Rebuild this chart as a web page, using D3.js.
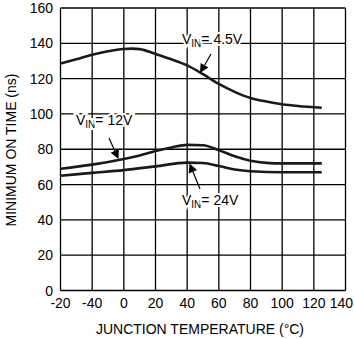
<!DOCTYPE html>
<html><head><meta charset="utf-8">
<script src="https://cdn.jsdelivr.net/npm/d3@7"></script>
<style>body{margin:0;background:#fff}svg{display:block}text{font-family:"Liberation Sans",Arial,sans-serif;fill:#000}</style>
</head><body>
<script>
const xTicks = [-40,-20,0,20,40,60,80,100,120,140];
const xTickLabels = ["-20","-40","0","20","40","60","80","100","120","140"];
const yTicks = [0,20,40,60,80,100,120,140,160];
const temps45 = [-40,-30,-20,-10,0,5,10,20,30,40,50,60,70,80,90,100,110,125];
const vin45   = [128.5,131,133.5,135.5,136.8,137,136.7,134,131,127.5,122.5,117,112.5,109,107,105.5,104.5,103.5];
const temps12 = [-40,-20,0,10,20,30,40,50,60,70,80,90,100,125];
const vin12   = [69,71.3,74.5,76.5,79,81,82.5,82.3,79.5,76,73.5,72.3,72,72];
const temps24 = [-40,-20,0,20,40,50,60,70,80,100,125];
const vin24   = [65,66.6,68.2,70.3,72.4,72.2,70.5,68.5,67.5,67,67];

const W=354,H=339;
const svg=d3.select("body").append("svg").attr("width",W).attr("height",H);
const x=d3.scaleLinear().domain([-40,140]).range([60.5,345.5]);
const y=d3.scaleLinear().domain([0,160]).range([290.5,8]);

// grid
const g=svg.append("g");
g.selectAll(".vx").data(xTicks).join("line")
 .attr("x1",d=>x(d)).attr("x2",d=>x(d)).attr("y1",y(0)).attr("y2",y(160))
 .attr("stroke","#000").attr("stroke-width",1.3);
g.selectAll(".hy").data(yTicks).join("line")
 .attr("y1",d=>y(d)).attr("y2",d=>y(d)).attr("x1",x(-40)).attr("x2",x(140))
 .attr("stroke","#000").attr("stroke-width",1.3);

// tick labels
const nX=xTicks.length;
svg.selectAll(".xl").data(xTicks).join("text")
 .attr("x",(d,i)=>i===nX-1?353:x(d)).attr("y",307.5)
 .attr("text-anchor",(d,i)=>i===nX-1?"end":"middle").attr("font-size",14)
 .text((d,i)=>xTickLabels[i]);
svg.selectAll(".yl").data(yTicks).join("text")
 .attr("x",53).attr("y",d=>y(d)+5).attr("text-anchor","end").attr("font-size",14)
 .text(d=>d);

// titles
svg.append("text").attr("x",200).attr("y",334).attr("text-anchor","middle").attr("font-size",14)
 .text("JUNCTION TEMPERATURE (°C)");
svg.append("text").attr("transform","translate(16,150) rotate(-90)").attr("text-anchor","middle").attr("font-size",14)
 .text("MINIMUM ON TIME (ns)");

// curves
const line=d3.line().x(d=>x(d[0])).y(d=>y(d[1])).curve(d3.curveMonotoneX);
[[temps45,vin45],[temps12,vin12],[temps24,vin24]].forEach(([t,v])=>{
  svg.append("path").datum(t.map((d,i)=>[d,v[i]])).attr("d",line)
   .attr("fill","none").attr("stroke","#1a1a1a").attr("stroke-width",2.6);
});

// annotations
function label(tx,ty,val){
  const t=svg.append("text").attr("x",tx).attr("y",ty).attr("font-size",14)
   .attr("stroke","#fff").attr("stroke-width",4).attr("paint-order","stroke");
  t.append("tspan").text("V");
  t.append("tspan").attr("font-size",10).attr("dy",3).text("IN");
  t.append("tspan").attr("dy",-3).text("= "+val);
}
label(182,44,"4.5V");
label(76,125,"12V");
label(182,205,"24V");

function arrow(x1,y1,x2,y2){
  const dx=x2-x1,dy=y2-y1,L=Math.hypot(dx,dy),ux=dx/L,uy=dy/L;
  const hl=9,hw=4.5;
  const bx=x2-ux*hl,by=y2-uy*hl;
  svg.append("line").attr("x1",x1).attr("y1",y1).attr("x2",bx).attr("y2",by)
   .attr("stroke","#000").attr("stroke-width",1.2);
  svg.append("path").attr("d",`M${x2},${y2}L${bx-uy*hw},${by+ux*hw}L${bx+uy*hw},${by-ux*hw}Z`).attr("fill","#000");
}
arrow(211,54,200,73);
arrow(109,138,118.5,159);
arrow(200,189,189.5,163.5);
</script>
</body></html>
